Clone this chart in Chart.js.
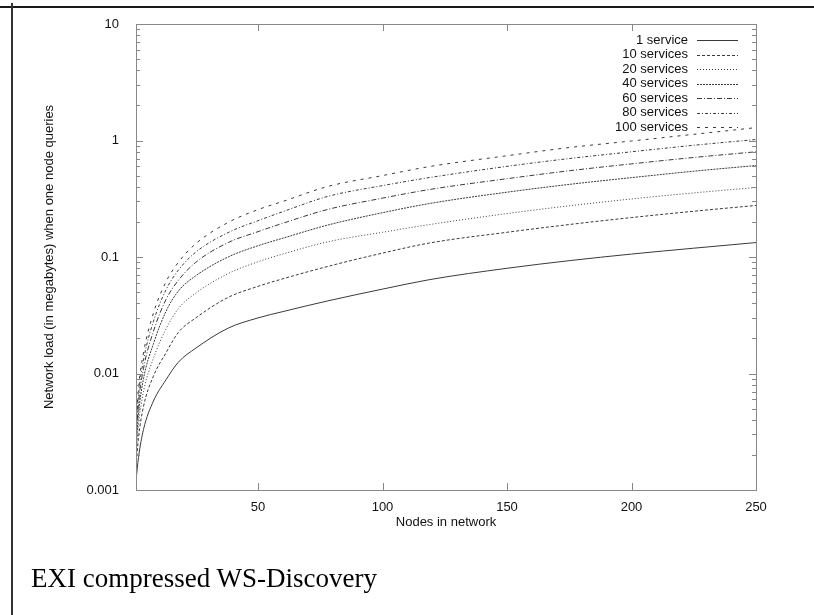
<!DOCTYPE html>
<html>
<head>
<meta charset="utf-8">
<script src="https://cdn.jsdelivr.net/npm/chart.js@4.4.0/dist/chart.umd.min.js"></script>
<style>
  body { margin: 0; background: #fff; }
  #wrap { position: relative; width: 814px; height: 615px; overflow: hidden; background: #fff; }
  #chartBox { position: absolute; left: 0; top: 0; width: 814px; height: 615px; }
  .rule-top { position: absolute; left: 0; top: 6px; width: 814px; height: 2px; background: #1a1a1a; }
  .rule-left { position: absolute; left: 11px; top: 3px; width: 2px; height: 612px; background: #333; }
  #caption { position: absolute; left: 31px; top: 565px; font-family: "Liberation Serif", "Times New Roman", serif;
             font-size: 27px; line-height: 27px; color: #000; white-space: nowrap; }
</style>
</head>
<body>
<div id="wrap">
  <div class="rule-top"></div>
  <div class="rule-left"></div>
  <div id="chartBox"><canvas id="loadChart"></canvas></div>
  <div id="caption">EXI compressed WS-Discovery</div>
</div>
<script>
// values
const nodes = [1, 2, 4, 8, 13, 18, 25, 38, 50, 60, 78, 100, 119, 150, 175, 200, 225, 250];
const oneService      = [0.0012, 0.0019, 0.0033, 0.0058, 0.0088, 0.0125, 0.0165, 0.0245, 0.030, 0.034, 0.042, 0.053, 0.064, 0.080, 0.093, 0.106, 0.119, 0.133];
const tenServices     = [0.0016, 0.0028, 0.0052, 0.0095, 0.0150, 0.0225, 0.030, 0.045, 0.056, 0.065, 0.083, 0.108, 0.132, 0.163, 0.190, 0.218, 0.247, 0.277];
const twentyServices  = [0.0019, 0.0036, 0.0070, 0.0135, 0.024, 0.036, 0.049, 0.072, 0.091, 0.106, 0.135, 0.163, 0.190, 0.236, 0.275, 0.315, 0.355, 0.395];
const fortyServices   = [0.0023, 0.0045, 0.0090, 0.018, 0.034, 0.051, 0.069, 0.100, 0.125, 0.145, 0.188, 0.240, 0.288, 0.36, 0.42, 0.48, 0.545, 0.61];
const sixtyServices   = [0.0027, 0.0055, 0.011, 0.023, 0.043, 0.063, 0.090, 0.133, 0.165, 0.195, 0.256, 0.32, 0.38, 0.47, 0.55, 0.63, 0.715, 0.80];
const eightyServices  = [0.0031, 0.0065, 0.013, 0.028, 0.052, 0.077, 0.110, 0.162, 0.205, 0.245, 0.331, 0.41, 0.481, 0.60, 0.70, 0.80, 0.91, 1.02];
const hundredServices = [0.0035, 0.0075, 0.015, 0.033, 0.061, 0.090, 0.130, 0.198, 0.255, 0.30, 0.403, 0.50, 0.598, 0.74, 0.87, 0.99, 1.13, 1.29];

const serviceLabels = ['1 service', '10 services', '20 services', '40 services', '60 services', '80 services', '100 services'];
const xTickValues = [50, 100, 150, 200, 250];
const yTickValues = [0.001, 0.01, 0.1, 1, 10];

const seriesValues = [oneService, tenServices, twentyServices, fortyServices, sixtyServices, eightyServices, hundredServices];
// gnuplot-like line types
const dashes = [[], [3, 2], [1, 2], [2, 1], [5, 2, 1, 2], [3, 2, 1, 2], [3, 5]];

const sansFont = { family: '"Liberation Sans", Arial, sans-serif', size: 13 };

// frame, inward ticks on all sides and the legend, gnuplot style
const gnuplotFrame = {
    id: 'gnuplotFrame',
    afterDatasetsDraw(chart) {
        const { ctx, chartArea: a, scales: { x, y } } = chart;
        ctx.save();
        ctx.strokeStyle = '#888';
        ctx.lineWidth = 1;
        ctx.setLineDash([]);
        ctx.strokeRect(a.left + 0.5, a.top + 0.5, a.right - a.left, a.bottom - a.top);

        ctx.beginPath();
        yTickValues.forEach((major, k) => {
            const py = Math.round(y.getPixelForValue(major)) + 0.5;
            ctx.moveTo(a.left, py); ctx.lineTo(a.left + 7, py);
            ctx.moveTo(a.right, py); ctx.lineTo(a.right - 7, py);
            if (k < yTickValues.length - 1) {
                for (let d = 2; d <= 9; d++) {
                    const pm = Math.round(y.getPixelForValue(major * d)) + 0.5;
                    ctx.moveTo(a.left, pm); ctx.lineTo(a.left + 4, pm);
                    ctx.moveTo(a.right, pm); ctx.lineTo(a.right - 4, pm);
                }
            }
        });
        xTickValues.forEach(v => {
            const px = Math.round(x.getPixelForValue(v)) + 0.5;
            ctx.moveTo(px, a.bottom); ctx.lineTo(px, a.bottom - 7);
            ctx.moveTo(px, a.top); ctx.lineTo(px, a.top + 7);
        });
        ctx.stroke();

        // legend
        ctx.font = `${sansFont.size}px ${sansFont.family}`;
        ctx.fillStyle = '#111';
        ctx.textAlign = 'right';
        ctx.textBaseline = 'middle';
        chart.data.datasets.forEach((ds, i) => {
            const ry = a.top + 16 + i * 14.5;
            ctx.fillText(ds.label, a.right - 68, ry);
            ctx.strokeStyle = ds.borderColor;
            ctx.lineWidth = ds.borderWidth;
            ctx.setLineDash(ds.borderDash);
            ctx.beginPath();
            ctx.moveTo(a.right - 59, Math.round(ry) + 0.5);
            ctx.lineTo(a.right - 18, Math.round(ry) + 0.5);
            ctx.stroke();
        });
        ctx.restore();
    }
};

const ctx = document.getElementById('loadChart').getContext('2d');
const loadChart = new Chart(ctx, {
    type: 'line',
    data: {
        datasets: serviceLabels.map((label, i) => ({
            label: label,
            data: nodes.map((n, j) => ({ x: n, y: seriesValues[i][j] })),
            borderColor: '#3a3a3a',
            borderWidth: 1,
            borderDash: dashes[i],
            pointRadius: 0,
            fill: false,
            cubicInterpolationMode: 'monotone'
        }))
    },
    options: {
        responsive: true,
        maintainAspectRatio: false,
        animation: false,
        devicePixelRatio: 1,
        layout: { padding: { top: 24, right: 58, left: 38, bottom: 81 } },
        plugins: {
            legend: { display: false },
            tooltip: { enabled: false }
        },
        scales: {
            x: {
                type: 'linear',
                min: 1,
                max: 250,
                grid: { display: false },
                border: { display: false },
                afterBuildTicks: scale => { scale.ticks = xTickValues.map(v => ({ value: v })); },
                afterFit: scale => { scale.height = 44; },
                ticks: { color: '#111', font: sansFont, padding: 2, maxRotation: 0, autoSkip: false,
                         callback: v => String(v) },
                title: { display: true, text: 'Nodes in network', color: '#111', font: sansFont }
            },
            y: {
                type: 'logarithmic',
                min: 0.001,
                max: 10,
                grid: { display: false },
                border: { display: false },
                afterBuildTicks: scale => { scale.ticks = yTickValues.map(v => ({ value: v })); },
                afterFit: scale => { scale.width = 98; },
                ticks: { color: '#111', font: sansFont, padding: 9, autoSkip: false,
                         callback: v => String(v) },
                title: { display: true, text: 'Network load (in megabytes) when one node queries', color: '#111', font: sansFont }
            }
        }
    },
    plugins: [gnuplotFrame]
});
</script>
</body>
</html>
